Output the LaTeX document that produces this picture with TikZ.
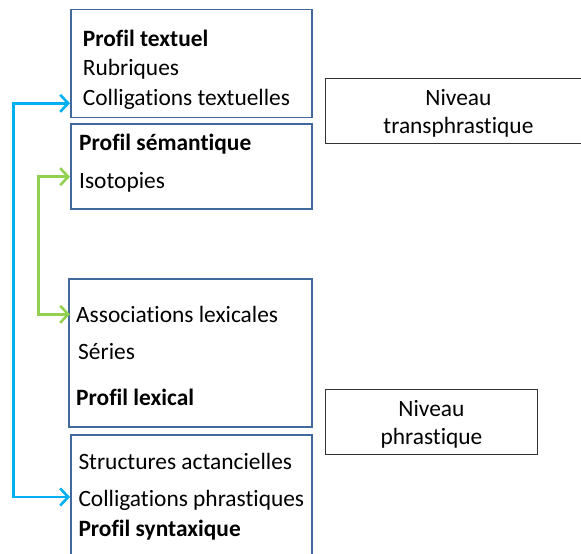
\documentclass[tikz,border=0pt]{standalone}
\usepackage{fontspec}
\setmainfont{Carlito}[Ligatures={NoCommon,NoRare,NoDiscretionary}]
\usetikzlibrary{positioning}
\usetikzlibrary{arrows.meta}
\usepackage{xcolor}
\definecolor{boxblue}{HTML}{41699E}
\definecolor{linkblue}{HTML}{00B0F0}
\definecolor{linkgreen}{HTML}{92D050}

\begin{document}
\begin{tikzpicture}[x=1pt, y=-1pt, >={Straight Barb[length=8pt,width=17pt]},
    profil/.style={draw=boxblue, line width=1.8pt, anchor=north west, inner sep=0pt},
    item/.style={anchor=base west, inner sep=0pt, font=\fontsize{23.4}{28}\selectfont},
    niveau/.style={draw=black!80, line width=0.9pt, anchor=north west, inner sep=0pt,
        align=center, font=\fontsize{23.4}{28}\selectfont},
    link/.style={line width=2.6pt, <->}]
    \useasboundingbox (0,0) rectangle (581,554);

    % boxes
    \node[profil, minimum width=241pt, minimum height=108pt] (textuel) at (70,8.5) {};
    \node[profil, minimum width=241pt, minimum height=85pt] (semant) at (70,123.3) {};
    \node[profil, minimum width=243pt, minimum height=148pt] (lexical) at (68.3,278.3) {};
    \node[profil, minimum width=241pt, minimum height=130pt] (syntax) at (70,434.3) {};

    % contents
    \node[item] (pt) at (82.7,46) {\textbf{Profil textuel}};
    \node[item] (rub) at (82.7,75.5) {Rubriques};
    \node[item] (ct) at (82.7,105) {Colligations textuelles};
    \node[item] (ps) at (79,150) {\textbf{Profil sémantique}};
    \node[item] (iso) at (79,188) {Isotopies};
    \node[item] (al) at (76,322.7) {Associations lexicales};
    \node[item] (ser) at (78,359) {Séries};
    \node[item] (pl) at (76,405.7) {\textbf{Profil lexical}};
    \node[item] (sa) at (78.3,469) {Structures actancielles};
    \node[item] (cp) at (78.3,506.7) {Colligations phrastiques};
    \node[item] (psy) at (78.3,536.7) {\textbf{Profil syntaxique}};

    % levels
    \node[niveau, minimum width=266pt, minimum height=65pt] (trans) at (325,78.3) {\rule{0pt}{20pt}Niveau\\transphrastique};
    \node[niveau, minimum width=212pt, minimum height=65pt] (phras) at (325,389.3) {\rule{0pt}{20pt}Niveau\\phrastique};

    % links
    \draw[link, linkblue] ([yshift=1.7pt]textuel.west |- ct.base) -- ++(-56.7,0)
        |- ([yshift=9.7pt]syntax.west |- cp.base);
    \draw[link, linkgreen] ([yshift=11.3pt]semant.west |- iso.base) -- ++(-31.7,0)
        |- ([yshift=8.4pt]semant.west |- al.base);
\end{tikzpicture}
\end{document}
